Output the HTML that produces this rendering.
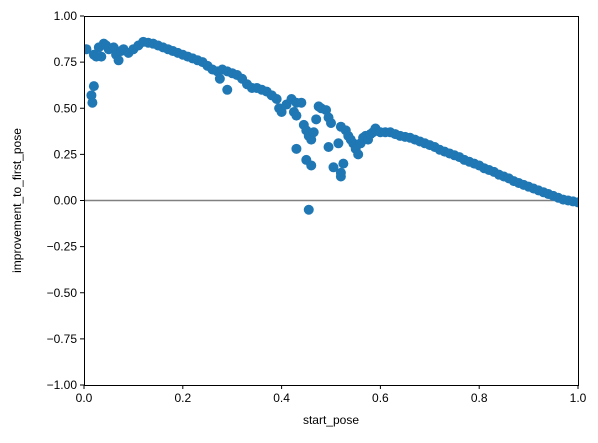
<!DOCTYPE html>
<html><head><meta charset="utf-8"><style>
body{margin:0;background:#fff;}
svg text{font-family:"Liberation Sans","DejaVu Sans",sans-serif;font-size:12px;fill:#000;}
</style></head><body>
<svg id="chart" width="598" height="438">
<g id="marks"></g>
<g id="axes"></g>
</svg>
<script>
const xs = [0.005,0.02,0.03,0.035,0.04,0.045,0.05,0.06,0.065,0.07,0.075,0.08,0.09,0.1,0.11,0.12,0.015,0.017,0.02,0.025,
0.13,0.14,0.15,0.16,0.17,0.18,0.19,0.20,0.21,0.22,0.23,0.24,0.25,0.26,0.27,0.275,0.28,0.29,0.29,0.30,0.31,0.32,0.33,0.34,0.35,0.36,0.37,0.38,0.39,0.395,0.40,0.41,0.42,0.43,0.425,0.43,0.44,0.43,0.445,0.45,0.455,0.46,0.45,0.46,0.455,0.465,0.47,0.475,0.48,0.49,0.495,0.50,0.495,0.505,0.515,0.52,0.52,0.52,0.525,0.53,0.535,0.54,0.545,0.55,0.555,0.56,0.565,0.57,0.575,0.58,0.585,0.59,0.60,0.61,
0.62,0.63,0.64,0.65,0.66,0.67,0.68,0.69,0.70,0.71,0.72,0.73,0.74,0.75,0.76,0.77,0.78,0.79,0.80,0.81,0.82,0.83,0.84,0.85,0.86,0.87,0.88,0.89,0.90,0.91,0.92,0.93,0.94,0.95,0.96,0.97,0.98,0.99,1.0];
const ys = [0.82,0.79,0.83,0.78,0.85,0.84,0.82,0.83,0.79,0.76,0.81,0.82,0.80,0.82,0.84,0.86,0.57,0.53,0.62,0.78,
0.855,0.85,0.84,0.83,0.82,0.81,0.80,0.79,0.78,0.77,0.76,0.75,0.73,0.71,0.70,0.66,0.71,0.70,0.60,0.69,0.68,0.66,0.63,0.61,0.61,0.60,0.59,0.57,0.55,0.50,0.48,0.52,0.55,0.53,0.48,0.46,0.53,0.28,0.41,0.38,0.35,0.33,0.22,0.19,-0.05,0.37,0.44,0.51,0.50,0.49,0.45,0.42,0.29,0.18,0.31,0.40,0.15,0.13,0.20,0.38,0.35,0.33,0.31,0.28,0.25,0.31,0.34,0.35,0.33,0.36,0.37,0.39,0.37,0.37,
0.37,0.36,0.35,0.345,0.34,0.33,0.32,0.31,0.30,0.29,0.275,0.265,0.255,0.245,0.235,0.22,0.21,0.20,0.19,0.175,0.165,0.155,0.14,0.13,0.12,0.105,0.095,0.085,0.075,0.065,0.055,0.045,0.035,0.025,0.015,0.005,0,-0.005,-0.01];
const xTicks = [0,0.2,0.4,0.6,0.8,1.0];
const xTickLabels = ["0.0","0.2","0.4","0.6","0.8","1.0"];
const yTicks = [-1,-0.75,-0.5,-0.25,0,0.25,0.5,0.75,1];
const yTickLabels = ["−1.00","−0.75","−0.50","−0.25","0.00","0.25","0.50","0.75","1.00"];

const L=84,R=578,T=16,B=385,NS="http://www.w3.org/2000/svg";
const X=v=>L+(v-0)/(1-0)*(R-L);
const Y=v=>B-(v+1)/2*(B-T);
const svg=document.getElementById('chart'),marks=document.getElementById('marks'),axes=document.getElementById('axes');
function mk(tag,attrs,parent){const e=document.createElementNS(NS,tag);for(const k in attrs)e.setAttribute(k,attrs[k]);parent.appendChild(e);return e;}
const clip=mk('clipPath',{id:'pc'},svg);mk('rect',{x:L,y:T,width:R-L,height:B-T},clip);
marks.setAttribute('clip-path','url(#pc)');
const zl=mk('line',{x1:L,x2:R,y1:Y(0),y2:Y(0),stroke:'#808080','stroke-width':1.5},marks);


for(let i=0;i<xs.length;i++){
 const c=mk('circle',{cx:X(xs[i]),cy:Y(ys[i]),r:5,fill:'#1f77b4'},marks);
 
 
}
mk('rect',{x:L+0.5,y:T+0.5,width:R-L,height:B-T,fill:'none',stroke:'#000','stroke-width':1},axes);
xTicks.forEach((v,i)=>{
 mk('line',{x1:X(v),x2:X(v),y1:B,y2:B+4,stroke:'#000'},axes);
 const t=mk('text',{x:X(v),y:B+17,'text-anchor':'middle'},axes);t.textContent=xTickLabels[i];
 
 
});
yTicks.forEach((v,i)=>{
 mk('line',{x1:L-4,x2:L,y1:Y(v),y2:Y(v),stroke:'#000'},axes);
 const t=mk('text',{x:L-7,y:Y(v)+4,'text-anchor':'end'},axes);t.textContent=yTickLabels[i];
 
 
});
const xt=mk('text',{x:(L+R)/2,y:424,'text-anchor':'middle'},axes);xt.textContent='start_pose';


const yt=mk('text',{x:21,y:(T+B)/2,'text-anchor':'middle',transform:`rotate(-90 21 ${(T+B)/2})`},axes);yt.textContent='improvement_to_first_pose';


</script>
</body></html>
